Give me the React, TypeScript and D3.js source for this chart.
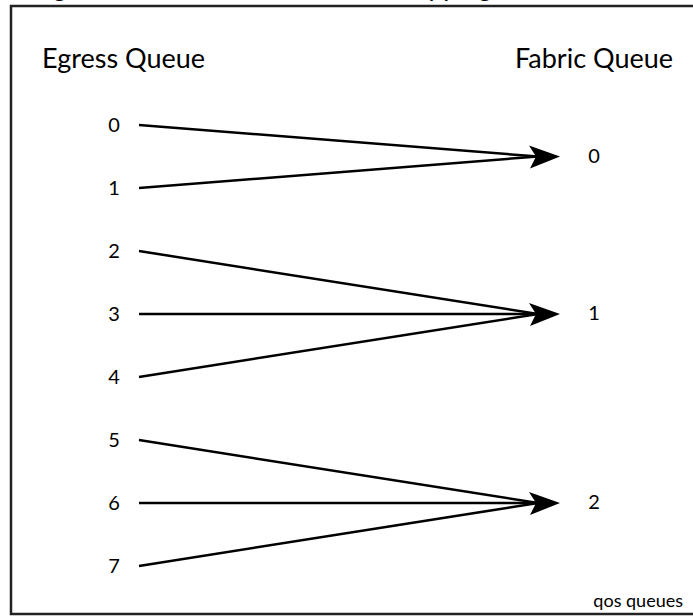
import { useEffect, useRef } from "react";
import * as d3 from "d3";

// egress queue -> fabric queue mapping
const egressQueues = ["0", "1", "2", "3", "4", "5", "6", "7"];
const fabricQueues = ["0", "1", "2"];
const mapping = [0, 0, 1, 1, 1, 2, 2, 2];

const headers = { left: "Egress Queue", right: "Fabric Queue" };
const title = "Egress Queue to Fabric Queue Mapping";
const footnote = "qos queues";

const W = 693;
const H = 616;
const FONT = "Lato, 'Noto Sans', sans-serif";

export default function App() {
  const svgRef = useRef<SVGSVGElement>(null);

  useEffect(() => {
    if (!svgRef.current) return;
    const svg = d3.select(svgRef.current);
    svg.selectAll("*").remove();

    // title sits above the frame, only its bottom edge shows
    svg
      .append("text")
      .attr("x", 492)
      .attr("y", -4)
      .attr("text-anchor", "end")
      .attr("font-family", FONT)
      .attr("font-size", 26)
      .attr("fill", "#000")
      .text(title);

    // frame
    svg
      .append("rect")
      .attr("x", 11)
      .attr("y", 6)
      .attr("width", 720)
      .attr("height", 608)
      .attr("fill", "none")
      .attr("stroke", "#222")
      .attr("stroke-width", 2.5);

    const y = d3.scalePoint<string>().domain(egressQueues).range([125, 566]);

    // fabric position = mean of the egress queues feeding it
    const fabricY = fabricQueues.map((_f, fi) =>
      d3.mean(
        egressQueues.filter((_e, i) => mapping[i] === fi),
        (e) => y(e) as number,
      ) as number,
    );

    const xStart = 139;
    const xEnd = 538;
    const tipX = 560;
    const labelLeftX = 114;
    const labelRightX = 594;

    // headers
    svg
      .append("text")
      .attr("x", 42)
      .attr("y", 68)
      .attr("font-family", FONT)
      .attr("font-size", 27)
      .text(headers.left);
    svg
      .append("text")
      .attr("x", 673)
      .attr("y", 68)
      .attr("text-anchor", "end")
      .attr("font-family", FONT)
      .attr("font-size", 27)
      .text(headers.right);

    // lines
    svg
      .append("g")
      .selectAll("line")
      .data(egressQueues)
      .join("line")
      .attr("x1", xStart)
      .attr("y1", (d) => y(d) as number)
      .attr("x2", xEnd)
      .attr("y2", (_d, i) => fabricY[mapping[i]])
      .attr("stroke", "#000")
      .attr("stroke-width", 2.5);

    // arrowheads
    svg
      .append("g")
      .selectAll("path")
      .data(fabricY)
      .join("path")
      .attr(
        "d",
        (fy) =>
          `M${tipX},${fy} L${tipX - 31},${fy - 11} L${tipX - 24},${fy} L${tipX - 30},${fy + 12} Z`,
      )
      .attr("fill", "#000");

    // egress labels
    svg
      .append("g")
      .selectAll("text")
      .data(egressQueues)
      .join("text")
      .attr("x", labelLeftX)
      .attr("y", (d) => (y(d) as number) + 2)
      .attr("text-anchor", "middle")
      .attr("dominant-baseline", "middle")
      .attr("font-family", FONT)
      .attr("font-size", 20)
      .text((d) => d);

    // fabric labels
    svg
      .append("g")
      .selectAll("text")
      .data(fabricQueues)
      .join("text")
      .attr("x", labelRightX)
      .attr("y", (_d, i) => fabricY[i] + 1)
      .attr("text-anchor", "middle")
      .attr("dominant-baseline", "middle")
      .attr("font-family", FONT)
      .attr("font-size", 20)
      .text((d) => d);

    svg
      .append("text")
      .attr("x", 683)
      .attr("y", 607)
      .attr("text-anchor", "end")
      .attr("font-family", FONT)
      .attr("font-size", 18)
      .text(footnote);
  }, []);

  return (
    <svg
      ref={svgRef}
      width={W}
      height={H}
      viewBox={`0 0 ${W} ${H}`}
      style={{ position: "absolute", left: 0, top: 0, background: "#fff" }}
    />
  );
}
